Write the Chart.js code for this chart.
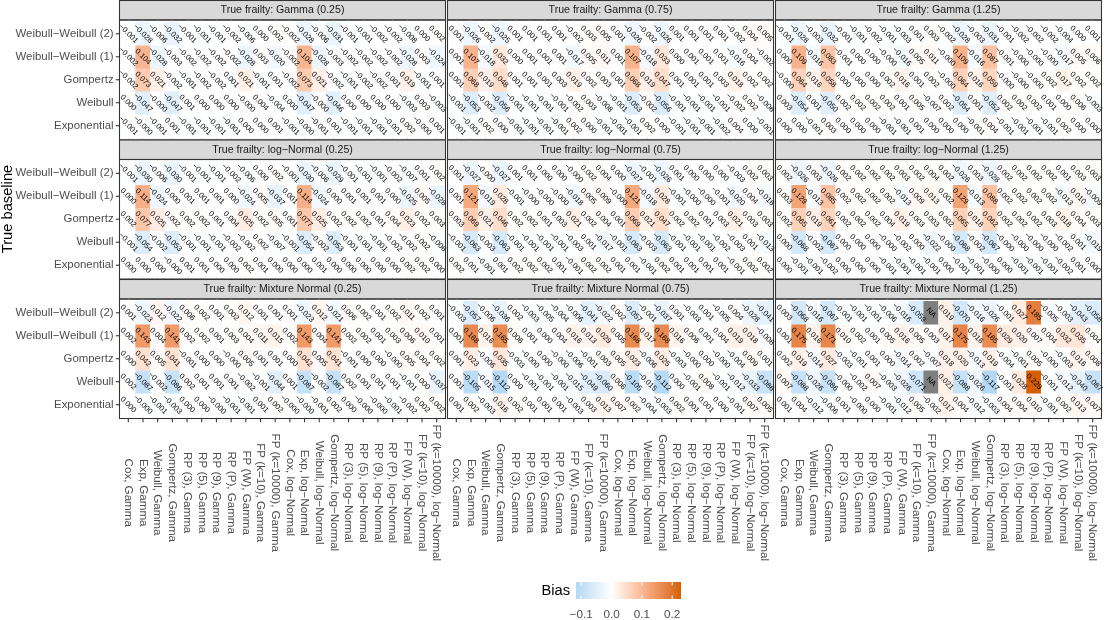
<!DOCTYPE html>
<html lang="en">
<head>
<meta charset="utf-8">
<title>Bias heatmap</title>
<script src="https://cdn.jsdelivr.net/npm/chart.js@4.4.1/dist/chart.umd.min.js"></script>
<style>
html, body { margin:0; padding:0; background:#ffffff; }
body { width:1104px; height:620px; position:relative; overflow:hidden; }
canvas { position:absolute; }
</style>
</head>
<body>
<script>
// ---------------- data ----------------
const columns = ['Cox, Gamma','Exp, Gamma','Weibull, Gamma','Gompertz, Gamma','RP (3), Gamma','RP (5), Gamma','RP (9), Gamma','RP (P), Gamma','FP (W), Gamma','FP (k=10), Gamma','FP (k=10000), Gamma',
  'Cox, log\u2212Normal','Exp, log\u2212Normal','Weibull, log\u2212Normal','Gompertz, log\u2212Normal','RP (3), log\u2212Normal','RP (5), log\u2212Normal','RP (9), log\u2212Normal','RP (P), log\u2212Normal','FP (W), log\u2212Normal','FP (k=10), log\u2212Normal','FP (k=10000), log\u2212Normal'];
const baselines = ['Weibull\u2212Weibull (2)','Weibull\u2212Weibull (1)','Gompertz','Weibull','Exponential'];
const facetTitles = ['True frailty: Gamma (0.25)','True frailty: Gamma (0.75)','True frailty: Gamma (1.25)',
  'True frailty: log\u2212Normal (0.25)','True frailty: log\u2212Normal (0.75)','True frailty: log\u2212Normal (1.25)',
  'True frailty: Mixture Normal (0.25)','True frailty: Mixture Normal (0.75)','True frailty: Mixture Normal (1.25)'];
const legendBreaks = [-0.1, 0.0, 0.1, 0.2];

const biasGamma025 = [
 [-0.001,-0.028,-0.006,-0.032,-0.001,-0.001,-0.001,-0.002,-0.006,0.000,0.002,-0.002,-0.028,-0.006,-0.031,-0.001,-0.001,-0.002,-0.002,-0.008,0.000,0.002],
 [-0.002,0.104,-0.028,-0.003,-0.002,-0.002,-0.002,-0.002,-0.028,0.003,-0.020,-0.002,0.104,-0.028,-0.003,-0.002,-0.002,-0.002,-0.002,-0.028,0.003,-0.024],
 [-0.002,0.073,0.021,-0.002,-0.001,-0.002,-0.002,0.001,0.021,-0.001,0.001,-0.002,0.073,0.021,-0.002,-0.001,-0.002,-0.002,0.001,0.019,-0.001,0.001],
 [0.000,-0.047,-0.000,-0.047,0.001,0.000,0.000,0.000,-0.000,0.004,-0.004,0.000,-0.047,-0.000,-0.046,0.000,0.000,0.000,0.000,-0.003,0.003,-0.003],
 [-0.001,-0.000,-0.001,0.001,-0.001,-0.001,-0.001,-0.001,0.000,0.000,0.001,-0.001,-0.000,-0.001,0.001,-0.001,-0.001,-0.001,-0.001,0.002,-0.000,0.001]];
const biasGamma075 = [
 [0.001,-0.026,-0.002,-0.025,0.001,0.001,0.001,0.001,-0.002,0.003,0.005,0.001,-0.026,-0.002,-0.026,0.001,0.001,0.001,0.001,-0.002,0.004,0.005],
 [0.001,0.107,-0.018,0.032,0.000,0.001,0.001,0.001,-0.017,0.005,0.011,0.001,0.107,-0.018,0.033,0.000,0.001,0.001,0.001,-0.016,0.004,-0.002],
 [0.001,0.068,0.019,0.048,0.001,0.001,0.001,0.003,0.019,0.002,0.003,0.001,0.068,0.019,0.047,0.001,0.001,0.001,0.003,0.018,0.002,0.002],
 [-0.001,-0.053,-0.002,-0.056,-0.001,-0.001,-0.001,-0.001,-0.002,0.003,-0.008,-0.001,-0.053,-0.002,-0.056,-0.001,-0.001,-0.001,-0.001,-0.002,0.002,-0.006],
 [-0.001,-0.001,0.002,0.000,-0.001,-0.001,-0.001,-0.001,0.002,0.000,-0.001,-0.001,-0.001,0.002,0.000,-0.001,-0.001,-0.001,-0.002,0.004,0.000,-0.001]];
const biasGamma125 = [
 [-0.001,-0.028,-0.003,-0.032,-0.001,-0.001,-0.002,-0.001,-0.003,0.001,0.003,-0.002,-0.028,-0.003,-0.031,-0.001,-0.002,-0.002,-0.002,-0.004,0.000,0.001],
 [0.000,0.109,-0.016,0.083,-0.001,0.000,0.000,-0.000,-0.016,0.005,0.011,-0.000,0.109,-0.016,0.087,-0.001,-0.000,-0.000,-0.000,-0.017,0.005,0.006],
 [-0.000,0.064,0.016,0.058,0.000,0.000,0.000,0.002,0.016,0.001,0.002,-0.000,0.064,0.016,0.059,-0.000,-0.000,-0.000,0.002,0.017,0.002,0.002],
 [0.003,-0.054,0.001,-0.050,0.002,0.002,0.002,0.002,0.001,0.005,-0.007,0.002,-0.054,0.001,-0.052,0.002,0.002,0.002,0.001,0.000,0.006,-0.003],
 [0.000,0.000,-0.001,0.003,0.000,0.000,0.000,-0.001,-0.001,0.001,0.000,0.000,0.000,-0.001,0.004,-0.001,-0.001,-0.001,-0.001,0.002,0.000,0.000]];
const biasLogNormal025 = [
 [-0.001,-0.030,-0.006,-0.030,-0.001,-0.001,-0.001,-0.002,-0.006,0.000,0.002,-0.001,-0.030,-0.006,-0.029,-0.001,-0.001,-0.001,-0.002,-0.007,0.001,0.002],
 [0.000,0.114,-0.024,0.000,0.001,0.001,0.001,0.000,-0.024,0.005,-0.037,0.001,0.114,-0.024,0.000,0.001,0.001,0.001,0.000,-0.025,0.005,-0.028],
 [0.002,0.077,0.025,0.002,0.002,0.002,0.001,0.004,0.025,0.002,0.005,0.001,0.077,0.025,0.002,0.002,0.002,0.001,0.004,0.023,0.002,0.003],
 [-0.001,-0.054,-0.002,-0.053,-0.001,-0.001,-0.001,-0.002,-0.002,0.002,-0.007,-0.001,-0.054,-0.002,-0.053,-0.001,-0.001,-0.001,-0.002,-0.002,0.002,-0.006],
 [0.000,0.000,0.000,-0.000,0.001,0.001,0.000,0.000,0.002,0.001,0.000,0.000,0.000,0.001,0.000,0.000,0.000,0.000,0.000,0.002,0.002,0.000]];
const biasLogNormal075 = [
 [0.001,-0.027,-0.000,-0.027,0.001,0.001,0.000,0.000,-0.000,0.002,0.004,0.000,-0.027,-0.001,-0.026,0.001,0.000,0.000,0.000,-0.003,0.002,0.003],
 [0.001,0.121,-0.019,0.028,-0.001,-0.000,-0.000,-0.000,-0.018,0.005,0.009,-0.000,0.121,-0.018,0.028,-0.001,-0.000,-0.000,-0.001,-0.020,0.004,-0.016],
 [0.003,0.069,0.021,0.046,0.002,0.002,0.001,0.003,0.021,0.002,0.004,0.001,0.069,0.021,0.047,0.002,0.002,0.001,0.003,0.021,0.003,0.003],
 [-0.001,-0.063,-0.003,-0.063,-0.001,-0.001,-0.001,-0.001,-0.003,0.001,-0.017,-0.001,-0.063,-0.003,-0.063,-0.001,-0.001,-0.001,-0.002,-0.003,0.001,-0.013],
 [0.002,0.001,-0.001,0.001,0.002,0.002,0.002,0.001,-0.001,0.002,0.002,0.001,0.001,-0.001,0.002,0.001,0.001,0.001,0.001,-0.001,0.002,0.002]];
const biasLogNormal125 = [
 [0.002,-0.026,0.003,-0.026,0.002,0.002,0.002,0.002,0.003,0.002,0.004,0.002,-0.026,0.003,-0.028,0.002,0.002,0.002,0.002,0.001,0.003,0.003],
 [0.003,0.129,-0.013,0.085,0.002,0.002,0.002,0.002,-0.013,0.009,0.013,0.002,0.129,-0.013,0.088,0.002,0.002,0.002,0.002,-0.013,0.010,-0.009],
 [0.002,0.065,0.019,0.061,0.002,0.002,0.002,0.004,0.019,0.003,0.003,0.002,0.065,0.018,0.062,0.002,0.002,0.002,0.003,0.018,0.004,0.003],
 [0.000,-0.068,-0.002,-0.067,0.000,0.000,0.000,-0.000,-0.002,0.000,-0.022,-0.000,-0.068,-0.002,-0.067,-0.000,-0.000,-0.000,-0.000,-0.002,0.001,-0.019],
 [0.000,-0.001,-0.001,-0.002,0.000,0.000,0.000,-0.001,-0.001,-0.001,-0.001,0.000,-0.001,-0.001,-0.000,0.000,-0.001,-0.001,-0.001,-0.002,0.001,0.000]];
const biasMixture025 = [
 [0.001,-0.023,0.012,-0.022,0.006,0.002,0.001,0.002,0.012,0.001,0.001,0.001,-0.023,0.012,-0.021,0.006,0.002,0.001,0.002,0.011,0.002,0.001],
 [0.002,0.143,0.004,0.141,0.002,0.002,0.001,0.003,0.004,0.011,0.015,0.002,0.143,0.004,0.141,0.002,0.002,0.001,0.003,0.006,0.010,0.001],
 [0.000,0.042,0.005,0.041,-0.001,0.000,0.000,-0.000,0.005,0.001,0.001,0.000,0.042,0.005,0.041,-0.001,0.000,0.000,-0.000,0.005,0.004,0.002],
 [0.002,-0.087,-0.002,-0.086,0.002,0.001,0.001,0.001,-0.002,-0.001,-0.044,0.001,-0.087,-0.002,-0.087,0.002,0.001,0.001,0.001,-0.001,0.000,-0.037],
 [0.000,-0.000,-0.001,-0.003,0.000,0.000,-0.000,-0.001,-0.001,0.001,0.002,-0.000,-0.000,-0.001,0.002,0.000,-0.000,-0.000,-0.001,-0.002,0.002,0.002]];
const biasMixture075 = [
 [-0.003,-0.057,-0.006,-0.036,0.002,-0.003,-0.005,-0.004,-0.006,-0.041,-0.022,0.002,-0.057,-0.001,-0.037,0.001,-0.003,0.001,-0.005,0.004,-0.028,-0.041],
 [0.001,0.168,0.016,0.165,0.006,0.001,0.000,0.004,0.016,0.013,0.029,0.005,0.168,0.017,0.168,0.016,0.006,0.001,0.004,0.019,0.018,-0.008],
 [0.001,0.023,-0.006,0.035,-0.003,-0.000,0.000,-0.000,-0.006,-0.001,0.003,0.005,0.023,-0.006,0.025,-0.003,-0.000,0.000,-0.000,-0.004,0.009,0.001],
 [0.001,-0.105,-0.015,-0.112,0.000,-0.001,-0.001,-0.001,-0.015,-0.049,-0.060,0.006,-0.105,-0.015,-0.112,0.000,-0.001,0.008,-0.001,-0.012,-0.033,-0.086],
 [0.001,0.002,-0.003,0.016,0.002,0.001,0.001,0.001,-0.003,0.003,0.013,0.007,0.002,-0.004,-0.003,0.002,0.001,0.001,0.000,-0.001,0.007,0.005]];
const biasMixture125 = [
 [0.003,-0.068,-0.016,-0.067,-0.001,-0.001,-0.001,-0.006,-0.016,-0.059,null,0.019,-0.070,-0.016,-0.026,-0.001,0.027,0.185,-0.005,-0.003,-0.043,-0.058],
 [0.001,0.175,0.016,0.171,0.010,0.002,0.001,0.005,0.016,0.005,0.003,0.017,0.175,0.016,0.165,0.029,0.020,0.007,0.004,0.032,0.035,0.004],
 [0.002,0.019,-0.014,0.027,-0.003,-0.001,0.001,0.000,-0.014,0.002,-0.007,0.018,0.020,-0.013,0.019,-0.004,-0.001,0.005,-0.000,-0.003,0.016,0.008],
 [0.007,-0.088,-0.026,-0.086,-0.000,-0.002,0.007,-0.003,-0.026,-0.071,null,0.021,-0.088,-0.026,-0.117,-0.001,0.028,0.229,-0.001,-0.012,-0.040,-0.087],
 [0.001,0.004,-0.012,-0.006,0.001,-0.000,0.000,-0.001,-0.012,0.005,-0.002,0.017,0.004,-0.012,-0.003,0.004,0.004,0.010,-0.001,0.002,0.013,0.007]];

const facetData = [biasGamma025, biasGamma075, biasGamma125, biasLogNormal025, biasLogNormal075, biasLogNormal125, biasMixture025, biasMixture075, biasMixture125];

// ---------------- styling ----------------
const FONT = '"Liberation Sans", Arial, Helvetica, sans-serif';
const PANEL_L = [119.5, 447.5, 775.5], PANEL_W = 326;
const STRIP_T = [0, 139.5, 279], STRIP_H = 20, PANEL_H = 119.5;
const TICK = 3.7, GAP = 2.2, LINE = '#333333', AXIS_TXT = '#4D4D4D';
const LOW = '#56B4E9', MID = '#FFFFFF', HIGH = '#D55E00', NA_FILL = '#7F7F7F';

const allVals = facetData.flat(2).filter(v => v !== null);
const vMin = Math.min(...allVals), vMax = Math.max(...allVals);
const vAbs = Math.max(Math.abs(vMin), Math.abs(vMax));

function hex2rgb(h) { return [1, 3, 5].map(i => parseInt(h.slice(i, i + 2), 16)); }
const XN = 0.95047, YN = 1, ZN = 1.08883;
function toLab(rgb) {
  const [R, G, B] = rgb.map(c => { c /= 255; return c <= 0.04045 ? c / 12.92 : Math.pow((c + 0.055) / 1.055, 2.4); });
  const X = (0.4124564 * R + 0.3575761 * G + 0.1804375 * B) / XN;
  const Y = (0.2126729 * R + 0.7151522 * G + 0.0721750 * B) / YN;
  const Z = (0.0193339 * R + 0.1191920 * G + 0.9503041 * B) / ZN;
  const f = t => t > 0.008856 ? Math.cbrt(t) : 7.787 * t + 16 / 116;
  return [116 * f(Y) - 16, 500 * (f(X) - f(Y)), 200 * (f(Y) - f(Z))];
}
function fromLab([L, a, b]) {
  const fy = (L + 16) / 116, fx = fy + a / 500, fz = fy - b / 200;
  const fi = t => { const t3 = t * t * t; return t3 > 0.008856 ? t3 : (t - 16 / 116) / 7.787; };
  const X = fi(fx) * XN, Y = fi(fy) * YN, Z = fi(fz) * ZN;
  const lin = [3.2404542 * X - 1.5371385 * Y - 0.4985314 * Z, -0.9692660 * X + 1.8760108 * Y + 0.0415560 * Z, 0.0556434 * X - 0.2040259 * Y + 1.0572252 * Z];
  return lin.map(c => { c = c <= 0.0031308 ? 12.92 * c : 1.055 * Math.pow(c, 1 / 2.4) - 0.055; return Math.round(Math.min(1, Math.max(0, c)) * 255); });
}
const labLow = toLab(hex2rgb(LOW)), labMid = toLab(hex2rgb(MID)), labHigh = toLab(hex2rgb(HIGH));
function fillColour(v) {
  if (v === null) return NA_FILL;
  let t = Math.max(-1, Math.min(1, v / vAbs));
  const end = t < 0 ? labLow : labHigh, u = Math.abs(t);
  const [r, g, b] = fromLab(labMid.map((m, i) => m + (end[i] - m) * u));
  return `rgb(${r},${g},${b})`;
}
function fmt(v) {
  if (v === null) return 'NA';
  return ((v < 0 || Object.is(v, -0)) ? '\u2212' : '') + Math.abs(v).toFixed(3);
}

function makeCanvas(l, t, w, h) {
  const cv = document.createElement('canvas');
  cv.width = w; cv.height = h;
  cv.style.left = l + 'px'; cv.style.top = t + 'px';
  cv.style.width = w + 'px'; cv.style.height = h + 'px';
  document.body.appendChild(cv);
  return cv;
}

function facetPlugin(k, r, c, ct) {
  return {
    id: 'facetDecor' + k,
    beforeDraw(chart) {
      const { ctx, chartArea: a } = chart;
      const top = a.top - STRIP_H;
      ctx.save();
      ctx.fillStyle = '#D9D9D9';
      ctx.fillRect(a.left, top, a.right - a.left, STRIP_H);
      ctx.strokeStyle = LINE; ctx.lineWidth = 1.07;
      ctx.strokeRect(a.left, top + 0.5, a.right - a.left, STRIP_H - 0.5);
      ctx.fillStyle = '#1A1A1A';
      ctx.font = `10.6px ${FONT}`;
      ctx.textAlign = 'center'; ctx.textBaseline = 'middle';
      ctx.fillText(facetTitles[k], (a.left + a.right) / 2, top + STRIP_H / 2 + 0.5);
      ctx.restore();
    },
    afterDatasetsDraw(chart) {
      const { ctx, chartArea: a } = chart;
      const vals = facetData[k];
      ctx.save();
      ctx.fillStyle = '#000000';
      ctx.font = `7.6px ${FONT}`;
      ctx.textAlign = 'center'; ctx.textBaseline = 'middle';
      chart.data.datasets.forEach((ds, i) => {
        const meta = chart.getDatasetMeta(i);
        meta.data.forEach((el, j) => {
          const cx = el.x, cy = (el.y + el.base) / 2;
          ctx.save();
          ctx.translate(cx, cy);
          ctx.rotate(Math.PI / 4);
          ctx.fillText(fmt(vals[i][j]), 0, 0);
          ctx.restore();
        });
      });
      ctx.strokeStyle = LINE; ctx.lineWidth = 1.07;
      ctx.strokeRect(a.left, a.top, a.right - a.left, a.bottom - a.top);
      const xs = chart.scales.x, ys = chart.scales.y;
      if (c === 0) {
        ctx.font = `11.4px ${FONT}`;
        ctx.fillStyle = AXIS_TXT; ctx.textAlign = 'right'; ctx.textBaseline = 'middle';
        baselines.forEach((b, i) => {
          const y = ys.getPixelForValue(i);
          ctx.beginPath(); ctx.moveTo(a.left - TICK, y); ctx.lineTo(a.left, y); ctx.stroke();
          ctx.fillText(b, a.left - TICK - GAP, y);
        });
      }
      if (r === 2) {
        ctx.font = `11.6px ${FONT}`;
        ctx.fillStyle = AXIS_TXT; ctx.textAlign = 'center'; ctx.textBaseline = 'middle';
        const maxLen = Math.max(...columns.map(s => ctx.measureText(s).width));
        columns.forEach((s, j) => {
          const x = xs.getPixelForValue(j);
          ctx.beginPath(); ctx.moveTo(x, a.bottom); ctx.lineTo(x, a.bottom + TICK); ctx.stroke();
          ctx.save();
          ctx.translate(x, a.bottom + TICK + GAP + maxLen / 2);
          ctx.rotate(Math.PI / 2);
          ctx.fillText(s, 0, 0);
          ctx.restore();
        });
      }
      if (r === 1 && c === 0) {
        ctx.save();
        ctx.font = `14.7px ${FONT}`;
        ctx.fillStyle = '#000000'; ctx.textAlign = 'center'; ctx.textBaseline = 'middle';
        ctx.translate(8, 209 - ct);
        ctx.rotate(-Math.PI / 2);
        ctx.fillText('True baseline', 0, 0);
        ctx.restore();
      }
      ctx.restore();
    }
  };
}

function buildFacet(k) {
  const r = Math.floor(k / 3), c = k % 3;
  const L = PANEL_L[c], R = L + PANEL_W;
  const T = STRIP_T[r] + STRIP_H, B = T + PANEL_H;
  const cl = c === 0 ? 0 : Math.floor(L) - 3;
  const cr = c === 2 ? 1104 : Math.ceil(R) + 3;
  const ct = Math.floor(STRIP_T[r]);
  const cb = r === 2 ? 580 : Math.ceil(B) + 3;
  const cv = makeCanvas(cl, ct, cr - cl, cb - ct);
  const vals = facetData[k];
  const gridOpts = { color: '#EBEBEB', lineWidth: 1.07, drawTicks: false, offset: false };
  return new Chart(cv, {
    type: 'bar',
    data: {
      datasets: baselines.map((b, i) => ({
        label: b,
        data: columns.map((col, j) => ({ x: j, y: [i - 0.5, i + 0.5] })),
        backgroundColor: vals[i].map(fillColour),
        borderWidth: 0,
        grouped: false,
        barPercentage: 1,
        categoryPercentage: 1
      }))
    },
    options: {
      responsive: false,
      maintainAspectRatio: false,
      animation: false,
      events: [],
      layout: { padding: { left: L - cl, right: cr - R, top: T - ct, bottom: cb - B } },
      plugins: { legend: { display: false }, tooltip: { enabled: false }, title: { display: false } },
      scales: {
        x: {
          type: 'linear', min: -0.6, max: columns.length - 0.4, offset: false,
          grid: gridOpts, border: { display: false }, ticks: { display: false },
          afterBuildTicks: s => { s.ticks = columns.map((_, j) => ({ value: j })); }
        },
        y: {
          type: 'linear', reverse: true, min: -0.6, max: baselines.length - 0.4, offset: false,
          grid: gridOpts, border: { display: false }, ticks: { display: false },
          afterBuildTicks: s => { s.ticks = baselines.map((_, i) => ({ value: i })); }
        }
      }
    },
    plugins: [facetPlugin(k, r, c, ct)]
  });
}

function buildLegend() {
  const cl = 500, ct = 566, w = 220, h = 54;
  const barL = 576, barR = 681, barT = 582, barB = 599;
  const cv = makeCanvas(cl, ct, w, h);
  return new Chart(cv, {
    type: 'bar',
    data: { datasets: [{ label: 'Bias', data: [] }] },
    options: {
      responsive: false, maintainAspectRatio: false, animation: false, events: [],
      layout: { padding: { left: barL - cl, right: cl + w - barR, top: barT - ct, bottom: ct + h - barB } },
      plugins: { legend: { display: false }, tooltip: { enabled: false } },
      scales: {
        x: { type: 'linear', min: vMin, max: vMax, offset: false,
             grid: { display: false, drawTicks: false }, border: { display: false }, ticks: { display: false },
             afterBuildTicks: s => { s.ticks = legendBreaks.map(v => ({ value: v })); } },
        y: { display: false, min: 0, max: 1 }
      }
    },
    plugins: [{
      id: 'colourbar',
      afterDraw(chart) {
        const { ctx, chartArea: a } = chart;
        const xs = chart.scales.x;
        ctx.save();
        for (let px = Math.floor(a.left); px < a.right; px++) {
          ctx.fillStyle = fillColour(xs.getValueForPixel(px + 0.5));
          ctx.fillRect(px, a.top, 1, a.bottom - a.top);
        }
        const hh = a.bottom - a.top;
        ctx.strokeStyle = '#FFFFFF'; ctx.lineWidth = 1;
        ctx.font = `11.7px ${FONT}`; ctx.fillStyle = AXIS_TXT;
        ctx.textAlign = 'center'; ctx.textBaseline = 'top';
        legendBreaks.forEach(v => {
          const x = xs.getPixelForValue(v);
          ctx.beginPath();
          ctx.moveTo(x, a.top); ctx.lineTo(x, a.top + hh / 5);
          ctx.moveTo(x, a.bottom - hh / 5); ctx.lineTo(x, a.bottom);
          ctx.stroke();
          ctx.fillText((v < 0 ? '\u2212' : '') + Math.abs(v).toFixed(1), x, a.bottom + 10);
        });
        ctx.font = `14.7px ${FONT}`; ctx.fillStyle = '#000000';
        ctx.textAlign = 'right'; ctx.textBaseline = 'middle';
        ctx.fillText('Bias', a.left - 6, (a.top + a.bottom) / 2);
        ctx.restore();
      }
    }]
  });
}

facetData.forEach((_, k) => buildFacet(k));
buildLegend();
</script>
</body>
</html>
